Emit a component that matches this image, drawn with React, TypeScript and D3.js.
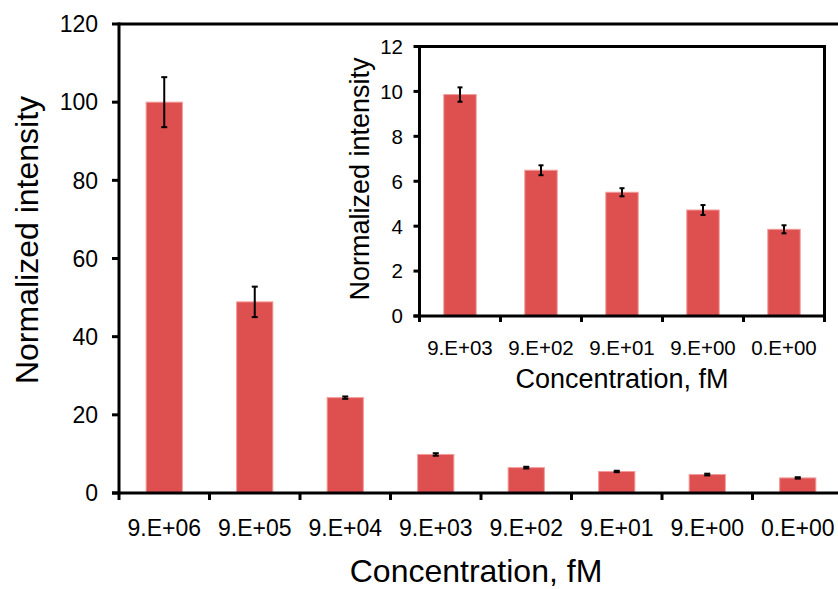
import React from "react";
import * as d3 from "d3";

const mainCategories = ["9.E+06", "9.E+05", "9.E+04", "9.E+03", "9.E+02", "9.E+01", "9.E+00", "0.E+00"];
const mainValues = [100, 48.9, 24.4, 9.86, 6.49, 5.51, 4.72, 3.86];
const mainErrors = [6.4, 3.9, 0.3, 0.32, 0.22, 0.18, 0.22, 0.18];
const mainYTicks = [0, 20, 40, 60, 80, 100, 120];

const insetCategories = ["9.E+03", "9.E+02", "9.E+01", "9.E+00", "0.E+00"];
const insetValues = [9.86, 6.49, 5.51, 4.72, 3.86];
const insetErrors = [0.32, 0.22, 0.18, 0.22, 0.18];
const insetYTicks = [0, 2, 4, 6, 8, 10, 12];

const yTitle = "Normalized intensity";
const xTitle = "Concentration, fM";

const FONT = "'Liberation Sans', Arial, Helvetica, sans-serif";
const BAR_FILL = "#DE4F4F";
const BAR_STROKE = "#F29A9A";

type PanelProps = {
  cats: string[];
  vals: number[];
  errs: number[];
  yTicks: number[];
  yMax: number;
  x0: number;
  x1: number;
  yTop: number;
  yBot: number;
  tickFont: number;
  yLabelRight: number;
  xLabelBaseline: number;
  axisW: number;
  tickLen: number;
  capW: number;
  box: boolean;
  frameRight: number;
};

function Panel(p: PanelProps) {
  const x = d3
    .scaleBand<string>()
    .domain(p.cats)
    .range([p.x0, p.x1])
    .paddingInner(0.6)
    .paddingOuter(0.3);
  const y = d3.scaleLinear().domain([0, p.yMax]).range([p.yBot, p.yTop]);
  const step = x.step();
  const boundaries = d3.range(p.cats.length + 1).map((i) => p.x0 + i * step);
  return (
    <g>
      {p.box && (
        <rect x={p.x0} y={p.yTop} width={p.x1 - p.x0} height={p.yBot - p.yTop} fill="#fff" />
      )}
      {p.cats.map((c, i) => (
        <rect
          key={c + i}
          x={x(c)!}
          y={y(p.vals[i])}
          width={x.bandwidth()}
          height={y(0) - y(p.vals[i])}
          fill={BAR_FILL}
          stroke={BAR_STROKE}
          strokeWidth={1}
        />
      ))}
      {p.cats.map((c, i) => {
        const cx = x(c)! + x.bandwidth() / 2;
        const t = y(p.vals[i] + p.errs[i]);
        const b = y(p.vals[i] - p.errs[i]);
        return (
          <g key={"e" + i} stroke="#000" strokeWidth={2}>
            <line x1={cx} x2={cx} y1={t} y2={b} />
            <line x1={cx - p.capW / 2} x2={cx + p.capW / 2} y1={t} y2={t} />
            <line x1={cx - p.capW / 2} x2={cx + p.capW / 2} y1={b} y2={b} />
          </g>
        );
      })}
      {/* frame */}
      <line x1={p.x0} x2={p.frameRight} y1={p.yTop} y2={p.yTop} stroke="#000" strokeWidth={p.axisW} />
      {p.box && (
        <line x1={p.x1} x2={p.x1} y1={p.yTop - p.axisW / 2} y2={p.yBot} stroke="#000" strokeWidth={p.axisW} />
      )}
      <line x1={p.x0} x2={p.x0} y1={p.yTop - p.axisW / 2} y2={p.yBot + p.axisW / 2} stroke="#000" strokeWidth={p.axisW} />
      <line x1={p.x0 - p.tickLen} x2={p.frameRight} y1={p.yBot} y2={p.yBot} stroke="#000" strokeWidth={p.axisW} />
      {p.yTicks.map((t) => (
        <g key={"yt" + t}>
          <line x1={p.x0 - p.tickLen} x2={p.x0} y1={y(t)} y2={y(t)} stroke="#000" strokeWidth={p.axisW} />
          <text
            x={p.yLabelRight}
            y={y(t)}
            dy="0.36em"
            textAnchor="end"
            fontFamily={FONT}
            fontSize={p.tickFont}
            fill="#000"
          >
            {t}
          </text>
        </g>
      ))}
      {boundaries.map((bx, i) => (
        <line key={"xt" + i} x1={bx} x2={bx} y1={p.yBot} y2={p.yBot + p.tickLen} stroke="#000" strokeWidth={p.axisW} />
      ))}
      {p.cats.map((c, i) => (
        <text
          key={"xl" + i}
          x={x(c)! + x.bandwidth() / 2}
          y={p.xLabelBaseline}
          textAnchor="middle"
          fontFamily={FONT}
          fontSize={p.tickFont}
          fill="#000"
        >
          {c}
        </text>
      ))}
    </g>
  );
}

export default function App() {
  return (
    <svg
      width={838}
      height={589}
      style={{ position: "absolute", left: 0, top: 0, background: "#fff", display: "block" }}
    >
      <rect x={0} y={0} width={838} height={589} fill="#fff" />
      <Panel
        cats={mainCategories}
        vals={mainValues}
        errs={mainErrors}
        yTicks={mainYTicks}
        yMax={120}
        x0={119}
        x1={843}
        yTop={24}
        yBot={493}
        tickFont={23}
        yLabelRight={98}
        xLabelBaseline={536}
        axisW={3}
        tickLen={7}
        capW={6}
        box={false}
        frameRight={845}
      />
      <text
        x={476}
        y={582}
        textAnchor="middle"
        fontFamily={FONT}
        fontSize={32}
        fill="#000"
      >
        {xTitle}
      </text>
      <text
        transform="translate(38,240) rotate(-90)"
        textAnchor="middle"
        fontFamily={FONT}
        fontSize={32}
        fill="#000"
      >
        {yTitle}
      </text>

      <Panel
        cats={insetCategories}
        vals={insetValues}
        errs={insetErrors}
        yTicks={insetYTicks}
        yMax={12}
        x0={419.5}
        x1={824.5}
        yTop={46.5}
        yBot={316}
        tickFont={20.5}
        yLabelRight={403}
        xLabelBaseline={355}
        axisW={3}
        tickLen={6}
        capW={5}
        box={true}
        frameRight={824.5}
      />
      <text
        x={622}
        y={388}
        textAnchor="middle"
        fontFamily={FONT}
        fontSize={27}
        fill="#000"
      >
        {xTitle}
      </text>
      <text
        transform="translate(369,179) rotate(-90)"
        textAnchor="middle"
        fontFamily={FONT}
        fontSize={27}
        fill="#000"
      >
        {yTitle}
      </text>
    </svg>
  );
}
